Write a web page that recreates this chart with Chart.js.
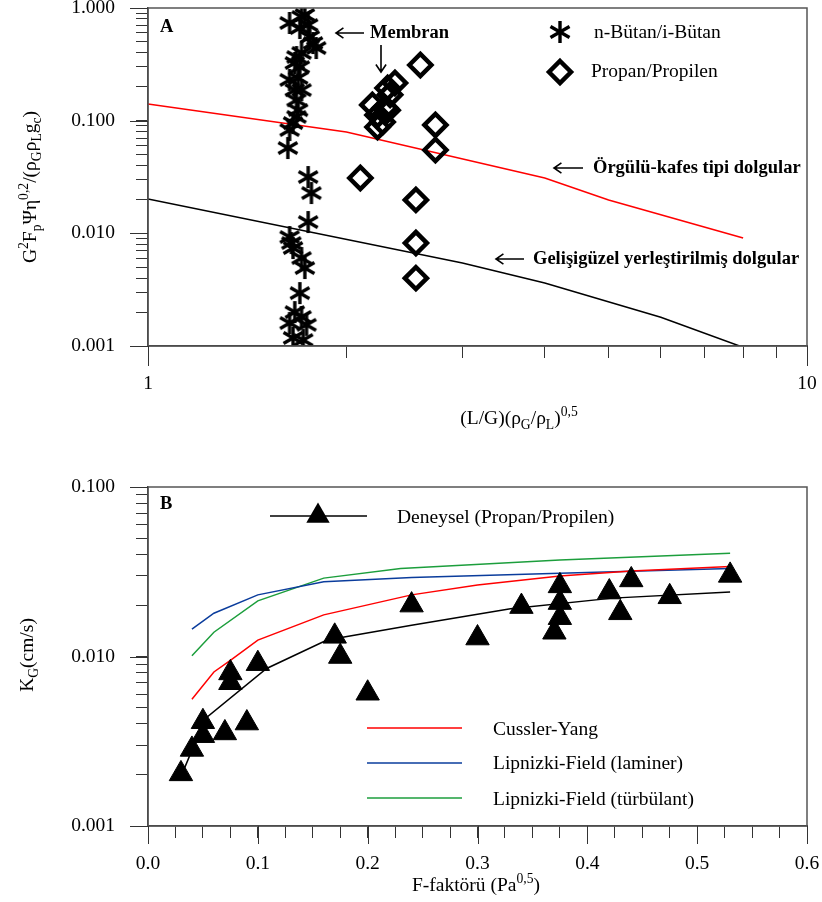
<!DOCTYPE html>
<html>
<head>
<meta charset="utf-8">
<script src="https://cdn.jsdelivr.net/npm/chart.js@4.4.1/dist/chart.umd.min.js"></script>
<style>
  body { margin: 0; background: #fff; }
  #wrap { position: relative; width: 822px; height: 902px; }
  canvas { position: absolute; left: 0; }
</style>
</head>
<body>
<div id="wrap">
  <canvas id="chartA" width="822" height="450" style="top:0"></canvas>
  <canvas id="chartB" width="822" height="452" style="top:450px"></canvas>
</div>
<script>
// ---- panel A data ----
var butanX = [1.64, 1.71, 1.73, 1.70, 1.75, 1.78, 1.80, 1.76, 1.68, 1.71, 1.67, 1.70, 1.64, 1.69, 1.67, 1.71,
              1.68, 1.69, 1.68, 1.66, 1.64, 1.63, 1.75, 1.77, 1.75, 1.64, 1.65, 1.66, 1.71, 1.73, 1.70, 1.67,
              1.71, 1.64, 1.74, 1.66, 1.72];
var butanY = [0.736, 0.832, 0.867, 0.664, 0.706, 0.489, 0.441, 0.553, 0.367, 0.399, 0.325, 0.299, 0.230, 0.239, 0.187, 0.187,
              0.152, 0.124, 0.108, 0.0953, 0.0826, 0.0572, 0.0316, 0.0228, 0.0126, 0.00927, 0.0082, 0.00741, 0.00604, 0.00492, 0.00295, 0.0020,
              0.00181, 0.0016, 0.00154, 0.00118, 0.00113];
var propanX = [2.59, 2.37, 2.31, 2.19, 2.31, 2.23, 2.27, 2.23, 2.33, 2.29, 2.73, 2.73, 2.10, 2.55, 2.55, 2.55];
var propanY = [0.312, 0.216, 0.195, 0.138, 0.124, 0.112, 0.0973, 0.0879, 0.170, 0.130, 0.0916, 0.0549, 0.031, 0.0198, 0.0082, 0.0040];
var orguluX = [1, 2, 4, 5, 8];
var orguluY = [0.1406, 0.0792, 0.031, 0.0198, 0.0091];
var gelisiX = [1, 3, 4, 6, 7.9];
var gelisiY = [0.0202, 0.00545, 0.00362, 0.0018, 0.001];
var xTicksA = [1, 2, 3, 4, 5, 6, 7, 8, 9, 10];
var xMajorA = [1, 10];
var yTicksA = [0.001, 0.002, 0.003, 0.004, 0.005, 0.006, 0.007, 0.008, 0.009,
               0.01, 0.02, 0.03, 0.04, 0.05, 0.06, 0.07, 0.08, 0.09,
               0.1, 0.2, 0.3, 0.4, 0.5, 0.6, 0.7, 0.8, 0.9, 1];
var yMajorA = [0.001, 0.01, 0.1, 1];

// ---- panel B data ----
var fFaktor = [0.03, 0.04, 0.05, 0.05, 0.07, 0.09, 0.075, 0.075, 0.10, 0.17, 0.175, 0.20, 0.24, 0.30, 0.34,
               0.375, 0.375, 0.375, 0.37, 0.42, 0.43, 0.44, 0.475, 0.53];
var kgDeney = [0.00203, 0.00283, 0.00412, 0.00341, 0.00354, 0.00405, 0.0080, 0.0070, 0.00907, 0.01315, 0.0100, 0.00607, 0.0201, 0.01285, 0.0197,
               0.0261, 0.0208, 0.01694, 0.0139, 0.0240, 0.0181, 0.0283, 0.0225, 0.0301];
var fitX = [0.032, 0.052, 0.108, 0.163, 0.24, 0.33, 0.423, 0.53];
var fitY = [0.0021, 0.0043, 0.0085, 0.0125, 0.0153, 0.0191, 0.0221, 0.024];
var cusslerX = [0.04, 0.06, 0.075, 0.10, 0.16, 0.24, 0.30, 0.375, 0.44, 0.53];
var cusslerY = [0.0056, 0.0081, 0.0095, 0.0125, 0.0176, 0.0231, 0.0264, 0.0298, 0.0319, 0.034];
var laminerX = [0.04, 0.06, 0.10, 0.16, 0.24, 0.375, 0.53];
var laminerY = [0.0145, 0.018, 0.0231, 0.0276, 0.0292, 0.031, 0.0331];
var turbX = [0.04, 0.06, 0.10, 0.16, 0.23, 0.375, 0.53];
var turbY = [0.0101, 0.0139, 0.0213, 0.029, 0.0331, 0.0371, 0.0406];
var xMajorB = [0, 0.1, 0.2, 0.3, 0.4, 0.5, 0.6];
var yTicksB = [0.001, 0.002, 0.003, 0.004, 0.005, 0.006, 0.007, 0.008, 0.009,
               0.01, 0.02, 0.03, 0.04, 0.05, 0.06, 0.07, 0.08, 0.09, 0.1];
var yMajorB = [0.001, 0.01, 0.1];

var SERIF = '"Liberation Serif", "Times New Roman", serif';
var FS = 19.5;

function pts(xs, ys) { return xs.map(function(x, i){ return {x: x, y: ys[i]}; }); }

// 6-spoke asterisk used as point style
function makeAsterisk(size, lw) {
    var c = document.createElement('canvas');
    c.width = size; c.height = size;
    var g = c.getContext('2d');
    g.strokeStyle = '#000'; g.lineWidth = lw;
    var r = size / 2 - 1;
    [90, 30, 150].forEach(function(a){
        var t = a * Math.PI / 180;
        g.beginPath();
        g.moveTo(size/2 - r*Math.cos(t), size/2 - r*Math.sin(t));
        g.lineTo(size/2 + r*Math.cos(t), size/2 + r*Math.sin(t));
        g.stroke();
    });
    return c;
}
var starImg = makeAsterisk(24, 3.4);

// text with sub/superscripts; parts: [text, 'sup'|'sub'|undefined]
function richText(ctx, parts, x, y, size, rotate) {
    ctx.save();
    ctx.translate(x, y);
    if (rotate) ctx.rotate(-Math.PI / 2);
    var small = size * 0.7;
    var total = 0, widths = [];
    parts.forEach(function(p){
        ctx.font = (p[1] ? small : size) + 'px ' + SERIF;
        var w = ctx.measureText(p[0]).width;
        widths.push(w); total += w;
    });
    var cx = -total / 2;
    ctx.fillStyle = '#000';
    ctx.textBaseline = 'alphabetic';
    ctx.textAlign = 'left';
    parts.forEach(function(p, i){
        ctx.font = (p[1] ? small : size) + 'px ' + SERIF;
        var dy = p[1] === 'sup' ? -size * 0.42 : (p[1] === 'sub' ? size * 0.25 : 0);
        ctx.fillText(p[0], cx, dy);
        cx += widths[i];
    });
    ctx.restore();
}

function text(ctx, s, x, y, size, bold) {
    ctx.font = (bold ? 'bold ' : '') + size + 'px ' + SERIF;
    ctx.fillStyle = '#000';
    ctx.textAlign = 'left';
    ctx.textBaseline = 'middle';
    ctx.fillText(s, x, y);
}

function arrow(ctx, x1, y1, x2, y2) {
    var a = Math.atan2(y2 - y1, x2 - x1), h = 9;
    ctx.strokeStyle = '#000'; ctx.lineWidth = 1.6;
    ctx.beginPath();
    ctx.moveTo(x1, y1); ctx.lineTo(x2, y2);
    ctx.moveTo(x2 - h*Math.cos(a - 0.6), y2 - h*Math.sin(a - 0.6));
    ctx.lineTo(x2, y2);
    ctx.lineTo(x2 - h*Math.cos(a + 0.6), y2 - h*Math.sin(a + 0.6));
    ctx.stroke();
}

function frame(chart) {
    var a = chart.chartArea, ctx = chart.ctx;
    ctx.save();
    ctx.strokeStyle = '#555'; ctx.lineWidth = 1.5;
    ctx.strokeRect(a.left, a.top, a.right - a.left, a.bottom - a.top);
    ctx.restore();
}

// longer marks for the major ticks, placed through the scales
function majorTicks(chart, xVals, xLen, yVals, yLen) {
    var ctx = chart.ctx, a = chart.chartArea;
    var xs = chart.scales.x, ys = chart.scales.y;
    ctx.save();
    ctx.strokeStyle = '#333'; ctx.lineWidth = 1;
    ctx.beginPath();
    xVals.forEach(function(v){
        var p = Math.round(xs.getPixelForValue(v)) + 0.5;
        ctx.moveTo(p, a.bottom); ctx.lineTo(p, a.bottom + xLen);
    });
    yVals.forEach(function(v){
        var p = Math.round(ys.getPixelForValue(v)) + 0.5;
        ctx.moveTo(a.left - yLen, p); ctx.lineTo(a.left, p);
    });
    ctx.stroke();
    ctx.restore();
}

function isDecade(v) { var l = Math.log10(v); return Math.abs(l - Math.round(l)) < 1e-9; }
function noPad(s) { s.paddingTop = 0; s.paddingBottom = 0; s.paddingLeft = 0; s.paddingRight = 0; }
function fixTicks(list) { return function(s){ s.ticks = list.map(function(v){ return {value: v}; }); }; }

var tickFont = { family: SERIF, size: FS };

var annotA = {
    id: 'annotA',
    afterDraw: function(chart) {
        var ctx = chart.ctx;
        ctx.save();
        frame(chart);
        majorTicks(chart, xMajorA, 20, yMajorA, 18);
        text(ctx, 'A', 160, 27, 18.5, true);
        arrow(ctx, 364, 33, 336, 33);
        text(ctx, 'Membran', 370, 33, 18.5, true);
        arrow(ctx, 381, 45, 381, 72);
        arrow(ctx, 583, 168, 554, 168);
        text(ctx, 'Örgülü-kafes tipi dolgular', 593, 168, 18.5, true);
        arrow(ctx, 524, 259, 496, 259);
        text(ctx, 'Gelişigüzel yerleştirilmiş dolgular', 533, 259, 18.5, true);
        // legend
        ctx.drawImage(starImg, 560 - 12, 32 - 12);
        text(ctx, chart.data.datasets[0].label, 594, 33, FS, false);
        ctx.beginPath();
        ctx.moveTo(560, 61); ctx.lineTo(571, 72); ctx.lineTo(560, 83); ctx.lineTo(549, 72); ctx.closePath();
        ctx.lineWidth = 4.5; ctx.strokeStyle = '#000'; ctx.stroke();
        text(ctx, chart.data.datasets[1].label, 591, 72, FS, false);
        // axis titles
        richText(ctx, [['G'], ['2', 'sup'], ['F'], ['p', 'sub'], ['Ψη'], ['0,2', 'sup'], ['/(ρ'], ['G', 'sub'], ['ρ'], ['L', 'sub'], ['g'], ['c', 'sub'], [')']], 36, 187, FS, true);
        richText(ctx, [['(L/G)(ρ'], ['G', 'sub'], ['/ρ'], ['L', 'sub'], [')'], ['0,5', 'sup']], 519, 424, FS, false);
        ctx.restore();
    }
};

var annotB = {
    id: 'annotB',
    afterDraw: function(chart) {
        var ctx = chart.ctx, o = 450;
        ctx.save();
        frame(chart);
        majorTicks(chart, xMajorB, 18, yMajorB, 18);
        text(ctx, 'B', 160, 504 - o, 18.5, true);
        var ds = chart.data.datasets;
        // experimental legend: line + triangle
        ctx.strokeStyle = '#000'; ctx.lineWidth = 1.5;
        ctx.beginPath(); ctx.moveTo(270, 516 - o); ctx.lineTo(367, 516 - o); ctx.stroke();
        var r = 13.5, cy = 516 - o;
        ctx.fillStyle = '#000';
        ctx.beginPath();
        ctx.moveTo(318, cy - r); ctx.lineTo(318 + r*0.866, cy + r/2); ctx.lineTo(318 - r*0.866, cy + r/2); ctx.closePath();
        ctx.fill();
        text(ctx, ds[0].label, 397, 518 - o, FS, false);
        [[2, 728, 730], [3, 763, 764], [4, 798, 800]].forEach(function(e){
            ctx.strokeStyle = ds[e[0]].borderColor; ctx.lineWidth = 1.5;
            ctx.beginPath(); ctx.moveTo(367, e[1] - o); ctx.lineTo(462, e[1] - o); ctx.stroke();
            text(ctx, ds[e[0]].label, 493, e[2] - o, FS, false);
        });
        richText(ctx, [['K'], ['G', 'sub'], ['(cm/s)']], 33, 655 - o, FS, true);
        richText(ctx, [['F-faktörü (Pa'], ['0,5', 'sup'], [')']], 476, 891 - o, FS, false);
        ctx.restore();
    }
};

function axisCommon(extra) {
    var base = {
        grid: { drawOnChartArea: false, drawTicks: true, tickLength: 12, color: '#333', lineWidth: 1 },
        border: { display: true, color: '#333', width: 1.5 },
        title: { display: false }
    };
    for (var k in extra) base[k] = extra[k];
    return base;
}

new Chart(document.getElementById('chartA'), {
    type: 'scatter',
    data: {
        datasets: [
            { label: 'n-Bütan/i-Bütan', data: pts(butanX, butanY), pointStyle: starImg, pointRadius: 12 },
            { label: 'Propan/Propilen', data: pts(propanX, propanY), pointStyle: 'rectRot', pointRadius: 11,
              borderWidth: 4.5, borderColor: '#000', backgroundColor: 'rgba(0,0,0,0)' },
            { label: 'Örgülü-kafes tipi dolgular', data: pts(orguluX, orguluY), showLine: true, pointRadius: 0,
              borderColor: '#ff0000', borderWidth: 1.5 },
            { label: 'Gelişigüzel yerleştirilmiş dolgular', data: pts(gelisiX, gelisiY), showLine: true, pointRadius: 0,
              borderColor: '#000', borderWidth: 1.5 }
        ]
    },
    options: {
        responsive: false,
        animation: false,
        layout: { padding: { top: 8, right: 15, left: 0, bottom: 0 }, autoPadding: false },
        plugins: { legend: { display: false }, tooltip: { enabled: false } },
        scales: {
            x: axisCommon({
                type: 'logarithmic', min: 1, max: 10,
                afterBuildTicks: fixTicks(xTicksA),
                afterFit: function(s){ s.height = 104; noPad(s); },
                ticks: { autoSkip: false, maxRotation: 0, padding: 14, color: '#000', font: tickFont,
                         callback: function(v){ return xMajorA.indexOf(v) >= 0 ? String(v) : ''; } }
            }),
            y: axisCommon({
                type: 'logarithmic', min: 0.001, max: 1,
                afterBuildTicks: fixTicks(yTicksA),
                afterFit: function(s){ s.width = 148; noPad(s); },
                ticks: { autoSkip: false, padding: 21, color: '#000', font: tickFont,
                         callback: function(v){ return isDecade(v) ? v.toFixed(3) : ''; } }
            })
        }
    },
    plugins: [annotA]
});

new Chart(document.getElementById('chartB'), {
    type: 'scatter',
    data: {
        datasets: [
            { label: 'Deneysel (Propan/Propilen)', data: pts(fFaktor, kgDeney), pointStyle: 'triangle', pointRadius: 13.5,
              backgroundColor: '#000', borderColor: '#000', borderWidth: 1 },
            { label: 'Deneysel eğri', data: pts(fitX, fitY), showLine: true, pointRadius: 0, borderColor: '#000', borderWidth: 1.5 },
            { label: 'Cussler-Yang', data: pts(cusslerX, cusslerY), showLine: true, pointRadius: 0, borderColor: '#ff0000', borderWidth: 1.5 },
            { label: 'Lipnizki-Field (laminer)', data: pts(laminerX, laminerY), showLine: true, pointRadius: 0, borderColor: '#0a3c9c', borderWidth: 1.5 },
            { label: 'Lipnizki-Field (türbülant)', data: pts(turbX, turbY), showLine: true, pointRadius: 0, borderColor: '#1c9e3c', borderWidth: 1.5 }
        ]
    },
    options: {
        responsive: false,
        animation: false,
        layout: { padding: { top: 37, right: 15, left: 0, bottom: 0 }, autoPadding: false },
        plugins: { legend: { display: false }, tooltip: { enabled: false } },
        scales: {
            x: axisCommon({
                type: 'linear', min: 0, max: 0.6,
                afterFit: function(s){ s.height = 76; noPad(s); },
                ticks: { stepSize: 0.025, autoSkip: false, maxRotation: 0, padding: 14, color: '#000', font: tickFont,
                         callback: function(v){ var t = v * 10; return Math.abs(t - Math.round(t)) < 1e-6 ? v.toFixed(1) : ''; } }
            }),
            y: axisCommon({
                type: 'logarithmic', min: 0.001, max: 0.1,
                afterBuildTicks: fixTicks(yTicksB),
                afterFit: function(s){ s.width = 148; noPad(s); },
                ticks: { autoSkip: false, padding: 21, color: '#000', font: tickFont,
                         callback: function(v){ return isDecade(v) ? v.toFixed(3) : ''; } }
            })
        }
    },
    plugins: [annotB]
});
</script>
</body>
</html>
